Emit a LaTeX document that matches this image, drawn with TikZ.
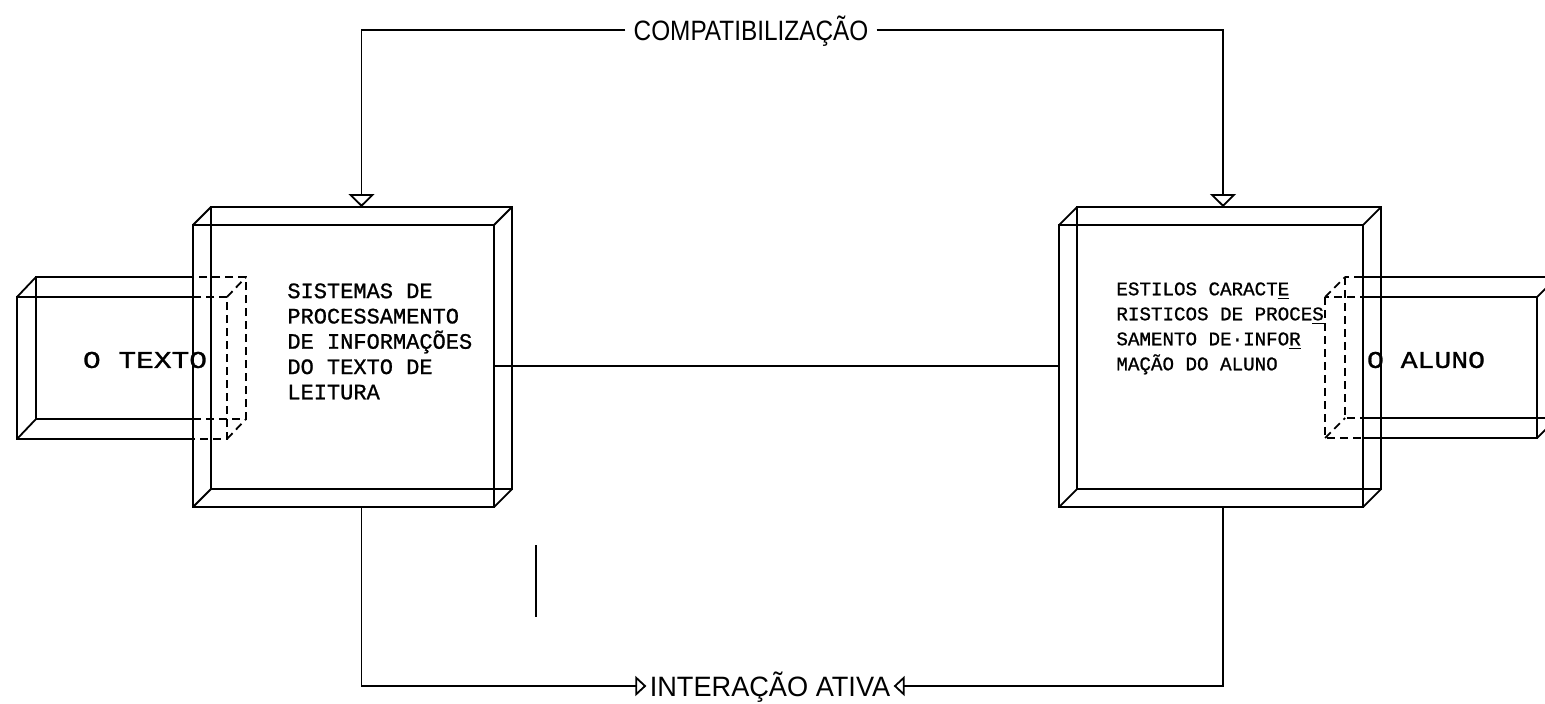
\documentclass[tikz,border=0pt]{standalone}
\usepackage{fontspec}
\usepackage{graphicx}
\usetikzlibrary{arrows.meta,calc}
\newfontfamily\typefont[FakeBold=1]{Liberation Mono}
\newfontfamily\labelfont{Liberation Sans}

\tikzset{
    link/.style={line width=0.9pt},
    hidden/.style={line width=0.9pt, dash pattern=on 4pt off 2.5pt},
    face/.style={inner sep=0pt, outer sep=0pt},
    downtip/.style={-{Triangle[open, width=13pt, length=6.5pt]}},
    sidetip/.style={-{Triangle[open, width=10pt, length=5.5pt]}},
    caption/.style={font=\labelfont\fontsize{14}{16}\selectfont, text height=10pt, text depth=0pt},
}

% front face, back face, and the four edges between them
\newcommand{\drawcuboid}[2]{%
    \draw (#1.north west) rectangle (#1.south east);
    \draw (#2.north west) rectangle (#2.south east);
    \foreach \a in {north west, north east, south east, south west}
        \draw (#1.\a) -- (#2.\a);
}

\begin{document}
\begin{tikzpicture}[x=0.5pt, y=-0.5pt]
    \useasboundingbox (0,0) rectangle (1545,703);
    \coordinate (top) at (0,0);
    \coordinate (bot) at (1545,703);

    % big boxes
    \node[face, minimum width=150.5pt, minimum height=141pt] (sis) at (343.5,366) {};
    \node[face, minimum width=150.5pt, minimum height=141pt] (sisB) at ($(sis)+(18,-18)$) {};
    \node[face, minimum width=152pt, minimum height=141pt] (est) at (1211,366) {};
    \node[face, minimum width=152pt, minimum height=141pt] (estB) at ($(est)+(18,-18)$) {};
    \begin{scope}[link]
        \drawcuboid{sis}{sisB}
        \drawcuboid{est}{estB}
    \end{scope}

    % small boxes, partly hidden behind the big ones
    \node[face, minimum width=105pt, minimum height=71pt] (texto) at (122,368) {};
    \node[face, minimum width=105pt, minimum height=71pt] (textoB) at ($(texto)+(19,-20)$) {};
    \node[face, minimum width=106pt, minimum height=70.5pt] (aluno) at (1431,367.5) {};
    \node[face, minimum width=106pt, minimum height=70.5pt] (alunoB) at ($(aluno)+(20,-20)$) {};
    \begin{scope}[link]
        \clip (top) rectangle (sis.west |- bot);
        \drawcuboid{texto}{textoB}
    \end{scope}
    \begin{scope}[hidden]
        \clip (sis.west |- top) rectangle (sis.east |- bot);
        \drawcuboid{texto}{textoB}
    \end{scope}
    \begin{scope}[hidden]
        \clip (est.west |- top) rectangle (est.east |- bot);
        \drawcuboid{aluno}{alunoB}
    \end{scope}
    \begin{scope}[link]
        \clip (est.east |- top) rectangle (bot);
        \drawcuboid{aluno}{alunoB}
    \end{scope}

    % texts
    \node[anchor=north west, align=left, inner sep=0pt, font=\typefont\fontsize{11}{12.65}\selectfont] (sistext) at (287,283)
        {SISTEMAS DE\\PROCESSAMENTO\\DE INFORMAÇÕES\\DO TEXTO DE\\LEITURA};
    \node[anchor=north west, align=left, inner sep=0pt, font=\typefont\fontsize{9.6}{12.5}\selectfont] (esttext) at (1116,282)
        {ESTILOS CARACT\underline{E}\\RISTICOS DE PROCE\underline{S}\\SAMENTO DE·INFO\underline{R}\\MAÇÃO DO ALUNO};
    \node[inner sep=0pt, text height=7.9pt, text depth=0pt, font=\typefont\fontsize{12}{14}\selectfont] (textoname) at (145,360)
        {\scalebox{1.23}[1]{O TEXTO}};
    \node[inner sep=0pt, text height=7.9pt, text depth=0pt, font=\typefont\fontsize{12}{14}\selectfont] (alunoname) at (1426,360)
        {\scalebox{1.17}[1]{O ALUNO}};

    % labels on the loops
    \node[caption, inner sep=4pt] (compat) at (751,30) {\scalebox{0.87}[1]{COMPATIBILIZAÇÃO}};
    \node[caption, inner sep=1.5pt] (inter) at (770,686) {\scalebox{0.97}[1]{INTERAÇÃO ATIVA}};

    % connectors
    \draw[link, downtip] (compat.west) -| (sisB.north);
    \draw[link, downtip] (compat.east) -| ([xshift=-3pt]estB.north);
    \draw[link] (sis.east) -- (est.west);
    \draw[link, sidetip] (sisB.south |- sis.south) |- (inter.west);
    \draw[link, sidetip] ([xshift=-3pt]estB.south |- est.south) |- (inter.east);

    \draw[line width=0.6pt] (536,545) -- (536,617); % stray stroke
\end{tikzpicture}
\end{document}
